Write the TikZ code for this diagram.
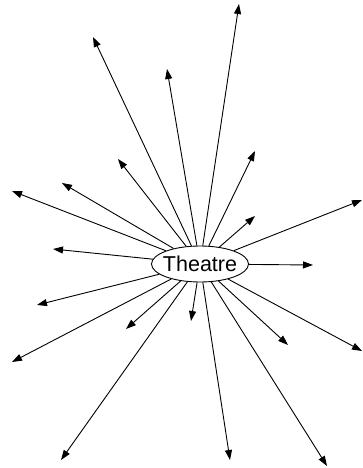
\documentclass[tikz,border=0pt]{standalone}
\usepackage{fontspec}
\setmainfont{Liberation Sans}
\usetikzlibrary{arrows.meta,shapes.geometric}
\tikzset{
  hub/.style={draw, ellipse, line width=0.9pt, inner xsep=-3pt, inner ysep=0pt, minimum width=97pt, minimum height=36pt, font=\fontsize{21.5}{25}\selectfont},
  spoke/.style={-{Triangle[length=10pt, width=7pt]}, line width=0.9pt},
}
\begin{document}
\begin{tikzpicture}[x=1pt, y=-1pt]
    \useasboundingbox (0,0) rectangle (363,468);
    \node[hub] (theatre) at (200,264) {Theatre};
    % free ends of the spokes
    \coordinate (n1) at (239,4);
    \coordinate (n2) at (167,69);
    \coordinate (n3) at (93,37);
    \coordinate (n4) at (118,159);
    \coordinate (n5) at (62,183);
    \coordinate (n6) at (12,191);
    \coordinate (n7) at (53,249);
    \coordinate (n8) at (255,151);
    \coordinate (n9) at (255,216);
    \coordinate (n10) at (362,200);
    \coordinate (n11) at (313,265);
    \coordinate (n12) at (362,351);
    \coordinate (n13) at (288,345);
    \coordinate (n14) at (327,466);
    \coordinate (n15) at (230,460);
    \coordinate (n16) at (191,321);
    \coordinate (n17) at (126,329);
    \coordinate (n18) at (61,460);
    \coordinate (n19) at (12,362);
    \coordinate (n20) at (37,305);
    \draw[spoke] (theatre) -- (n1);
    \draw[spoke] (theatre) -- (n2);
    \draw[spoke] (theatre) -- (n3);
    \draw[spoke] (theatre) -- (n4);
    \draw[spoke] (theatre) -- (n5);
    \draw[spoke] (theatre) -- (n6);
    \draw[spoke] (theatre) -- (n7);
    \draw[spoke] (theatre) -- (n8);
    \draw[spoke] (theatre) -- (n9);
    \draw[spoke] (theatre) -- (n10);
    \draw[spoke] (theatre) -- (n11);
    \draw[spoke] (theatre) -- (n12);
    \draw[spoke] (theatre) -- (n13);
    \draw[spoke] (theatre) -- (n14);
    \draw[spoke] (theatre) -- (n15);
    \draw[spoke] (theatre) -- (n16);
    \draw[spoke] (theatre) -- (n17);
    \draw[spoke] (theatre) -- (n18);
    \draw[spoke] (theatre) -- (n19);
    \draw[spoke] (theatre) -- (n20);
  \end{tikzpicture}
\end{document}
